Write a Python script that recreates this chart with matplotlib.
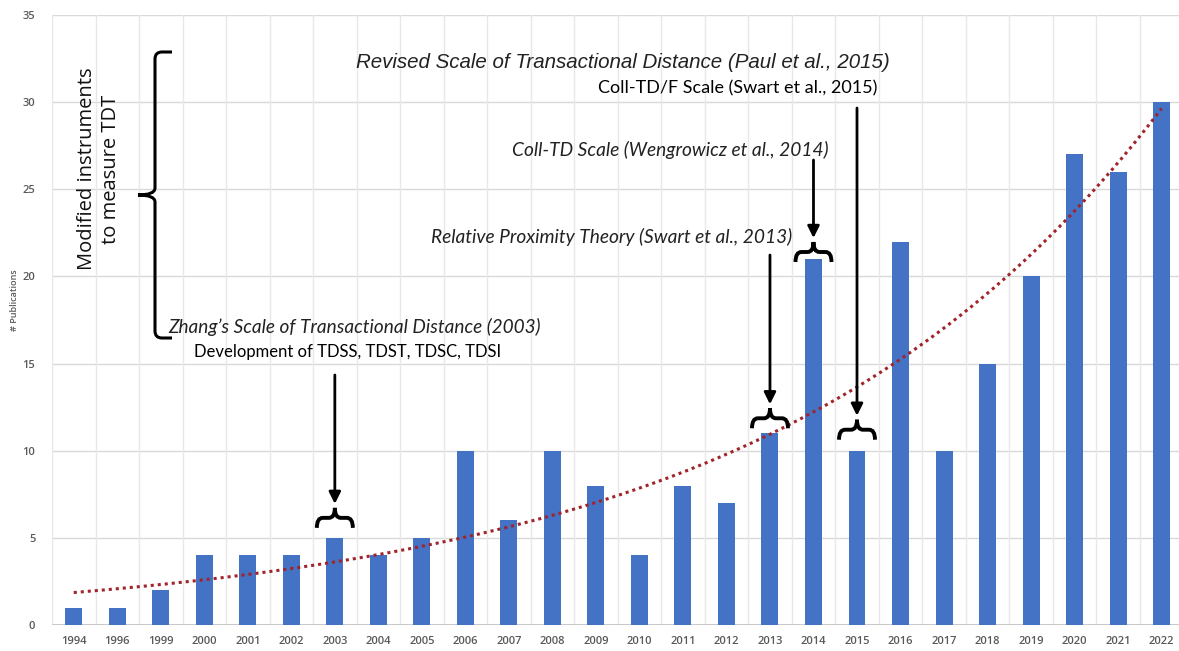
import numpy as np
import matplotlib

matplotlib.use("Agg")
import matplotlib.pyplot as plt
from matplotlib.path import Path
from matplotlib.patches import PathPatch, FancyArrowPatch

W, H = 1179, 651
DPI = 100

years = ["1994", "1996", "1999", "2000", "2001", "2002", "2003", "2004", "2005",
         "2006", "2007", "2008", "2009", "2010", "2011", "2012", "2013", "2014",
         "2015", "2016", "2017", "2018", "2019", "2020", "2021", "2022"]
publications = [1, 1, 2, 4, 4, 4, 5, 4, 5, 10, 6, 10, 8, 4, 8, 7, 11, 21, 10,
                22, 10, 15, 20, 27, 26, 30]

# (year, arrow tail px from top, gap between bar top and brace in px)
marked_years = [("2003", 375, 10), ("2013", 255, 5), ("2014", 160, -3), ("2015", 108, 11)]

BAR = "#4472C4"
GRID = "#D9D9D9"
TXT = "#595959"
CALIBRI = ["Lato", "DejaVu Sans"]
ARIAL = ["Liberation Sans", "DejaVu Sans"]
SEGOE = ["Open Sans", "DejaVu Sans"]

fig = plt.figure(figsize=(W / DPI, H / DPI), dpi=DPI)
ax = fig.add_axes([52 / W, (H - 625) / H, (W - 52) / W, 610 / H])

x = np.arange(len(years))
ax.bar(x, publications, width=0.39, color=BAR, zorder=2)

# Excel-style exponential trend line fitted to the bars
b, a = np.polyfit(x + 1, np.log(publications), 1)
xs = np.linspace(0, len(years) - 1, 200)
ax.plot(xs, np.exp(a + b * (xs + 1)), ls=(0, (1, 1.3)), color="#A0242A", lw=2.2, zorder=3)

ax.set_xlim(-0.5, 25.4)
ax.set_ylim(0, 35)
ax.set_yticks(range(0, 36, 5))
ax.set_xticks(x)
ax.set_xticklabels(years)
for v in range(5, 36, 5):
    ax.axhline(v, color=GRID, lw=1, zorder=0)
for v in np.arange(-0.5, len(years), 1):
    ax.axvline(v, color="#E8E8E8", lw=1, zorder=0)
ax.axhline(0, color="#BFBFBF", lw=1.2, zorder=1)
for s in ax.spines.values():
    s.set_visible(False)
ax.tick_params(length=0, labelsize=8, labelcolor=TXT, pad=8)
for lab in ax.get_xticklabels() + ax.get_yticklabels():
    lab.set_family(SEGOE)
    lab.set_fontweight("semibold")
ax.tick_params(axis="y", pad=12)
fig.text(15 / W, 1 - 300 / H, "# Publications", rotation=90, ha="center", va="center",
         fontsize=6.5, color=TXT, family=SEGOE, fontweight="semibold")

fig.canvas.draw()


def px(xp, yp):
    return xp, H - yp


def hbrace(xc, yb, w=18, h=20, r=6):
    m = h * 0.5
    verts = [(xc - w, yb), (xc - w, yb + m), (xc - w + r, yb + m), (xc - r, yb + m),
             (xc, yb + m), (xc, yb + h),
             (xc, yb + m), (xc + r, yb + m), (xc + w - r, yb + m),
             (xc + w, yb + m), (xc + w, yb)]
    codes = [Path.MOVETO, Path.CURVE3, Path.CURVE3, Path.LINETO, Path.CURVE3, Path.CURVE3,
             Path.CURVE3, Path.CURVE3, Path.LINETO, Path.CURVE3, Path.CURVE3]
    fig.patches.append(PathPatch(Path(verts, codes), fill=False, lw=2.8, ec="black",
                                 transform=None, figure=fig, zorder=5))


def arrow(xc, y_tail, y_head):
    fig.patches.append(FancyArrowPatch(
        (xc, y_tail), (xc, y_head), arrowstyle="-|>,head_length=7,head_width=3.5",
        lw=2, color="black", transform=None, figure=fig, zorder=5, shrinkA=0, shrinkB=0))


for year, tail, gap in marked_years:
    i = years.index(year)
    xd, yd = ax.transData.transform((i, publications[i]))
    yb = yd + gap
    hbrace(xd, yb)
    arrow(xd, H - tail, yb + 20 + 4)

# big vertical brace on the left
vx, vt, vb, vm = 155, 52, 338, 195
r = 7
verts = [px(172, vt), px(vx + r, vt), px(vx, vt), px(vx, vt + r), px(vx, vm - r),
         px(vx, vm), px(138, vm),
         px(vx, vm), px(vx, vm + r), px(vx, vb - r), px(vx, vb), px(vx + r, vb), px(172, vb)]
codes = [Path.MOVETO, Path.LINETO, Path.CURVE3, Path.CURVE3, Path.LINETO,
         Path.CURVE3, Path.CURVE3,
         Path.CURVE3, Path.CURVE3, Path.LINETO, Path.CURVE3, Path.CURVE3, Path.LINETO]
fig.patches.append(PathPatch(Path(verts, codes), fill=False, lw=2.2, ec="black",
                             transform=None, figure=fig, zorder=5))

fig.text(99 / W, 1 - 169 / H, "Modified instruments\nto measure TDT", rotation=90,
         ha="center", va="center", fontsize=14.5, family=SEGOE, linespacing=1.3, color="#111111")

labels = [
    (890, 62, "Revised Scale of Transactional Distance (Paul et al., 2015)", "right", ARIAL, "italic", 14.8),
    (877, 88, "Coll-TD/F Scale (Swart et al., 2015)", "right", CALIBRI, "normal", 13),
    (829, 150, "Coll-TD Scale (Wengrowicz et al., 2014)", "right", CALIBRI, "italic", 13.8),
    (792, 237, "Relative Proximity Theory (Swart et al., 2013)", "right", CALIBRI, "italic", 13.8),
    (168, 327, "Zhang’s Scale of Transactional Distance (2003)", "left", CALIBRI, "italic", 13.7),
    (348, 352, "Development of TDSS, TDST, TDSC, TDSI", "center", CALIBRI, "normal", 12),
]
for xp, yp, s, ha, fam, style, size in labels:
    fig.text(xp / W, 1 - yp / H, s, ha=ha, va="center", family=fam, style=style,
             fontsize=size, color="#222222" if style == "italic" else "black")

fig.savefig("out.png", dpi=DPI)
